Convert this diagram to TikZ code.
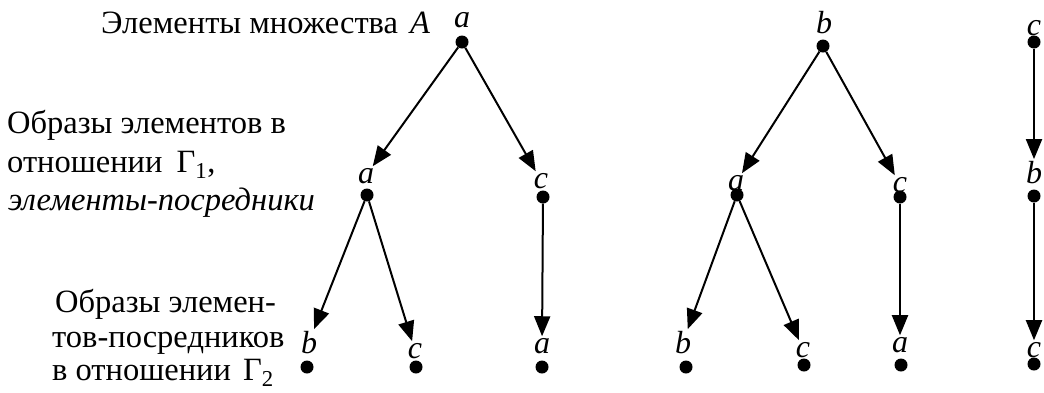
\documentclass[tikz,border=0pt]{standalone}
\usepackage{fontspec}
\setmainfont{Liberation Serif}
\usetikzlibrary{arrows.meta}
\tikzset{
  dotn/.style={circle,fill=black,inner sep=0pt,minimum size=13pt},
  lab/.style={font=\fontsize{32}{38}\selectfont\itshape,inner sep=1.5pt,anchor=base},
  txt/.style={font=\fontsize{32.5}{38}\selectfont,inner sep=0pt,anchor=base west},
  arr/.style={line width=2pt,-{Triangle[length=20pt,width=16pt]}}
}
\begin{document}
\begin{tikzpicture}[x=1pt,y=-1pt]
\useasboundingbox (0,0) rectangle (1044,392);
% texts
\node[txt] (t1) at (101,33) {Элементы множества\ \hspace{4pt}\textit{A}};
\node[txt] (t2) at (7,133) {Образы элементов в};
\node[txt] (t3) at (7,172) {отношении\ \hspace{6pt}Γ\textsubscript{1},};
\node[txt] (t4) at (8,210) {\itshape элементы-посредники};
\node[txt] (t5) at (55,312) {Образы элемен-};
\node[txt] (t6) at (52,347) {тов-посредников};
\node[txt] (t7) at (52,380) {в отношении\ \hspace{4pt}Γ\textsubscript{2}};
% tree 1
\node[dotn] (a1) at (462,42) {};
\node[dotn] (m1a) at (367,195) {};
\node[dotn] (m1c) at (543,197) {};
\node[dotn] (b1b) at (307,367) {};
\node[dotn] (b1c) at (416,367) {};
\node[dotn] (b1a) at (542,367) {};
\node[lab] (la1) at (462,27) {a};
\node[lab] (lm1a) at (366,183) {a};
\node[lab] (lm1c) at (541,188) {c};
\node[lab] (lb1b) at (309,353) {b};
\node[lab] (lb1c) at (415,358) {c};
\node[lab] (lb1a) at (542,353) {a};
\draw[arr] (a1) -- (lm1a);
\draw[arr] (a1) -- (lm1c);
\draw[arr] (m1a) -- (lb1b);
\draw[arr] (m1a) -- (lb1c);
\draw[arr] (m1c) -- (lb1a);
% tree 2
\node[dotn] (t2b) at (823,46) {};
\node[dotn] (m2a) at (737,195) {};
\node[dotn] (m2c) at (900,197) {};
\node[dotn] (b2b) at (686,367) {};
\node[dotn] (b2c) at (804,365) {};
\node[dotn] (b2a) at (901,365) {};
\node[lab] (lt2b) at (824,33) {b};
\node[lab] (lm2a) at (736,190) {a};
\node[lab] (lm2c) at (900,192) {c};
\node[lab] (lb2b) at (683,353) {b};
\node[lab] (lb2c) at (803,357) {c};
\node[lab] (lb2a) at (900,352) {a};
\draw[arr] (t2b) -- (lm2a);
\draw[arr] (t2b) -- (lm2c);
\draw[arr] (m2a) -- (lb2b);
\draw[arr] (m2a) -- (lb2c);
\draw[arr] (m2c) -- (lb2a);
% tree 3
\node[dotn] (t3c) at (1034,42) {};
\node[dotn] (m3b) at (1034,196) {};
\node[dotn] (b3c) at (1034,364) {};
\node[lab] (lt3c) at (1034,35) {c};
\node[lab] (lm3b) at (1034,183) {b};
\node[lab] (lb3c) at (1034,357) {c};
\draw[arr] (t3c) -- (lm3b);
\draw[arr] (m3b) -- (lb3c);
\end{tikzpicture}
\end{document}
